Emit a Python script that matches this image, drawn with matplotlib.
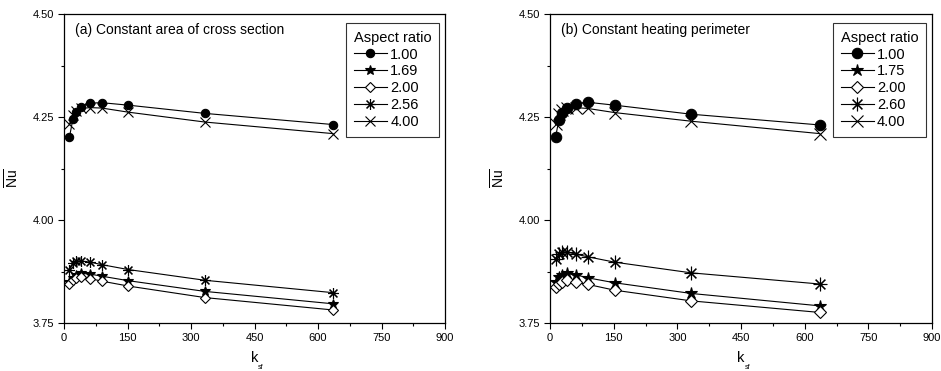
import matplotlib
matplotlib.use("Agg")
import matplotlib.pyplot as plt

plt.rcParams['font.family'] = ['Liberation Sans', 'DejaVu Sans']
plt.rcParams['mathtext.fontset'] = 'custom'
plt.rcParams['mathtext.rm'] = 'Liberation Sans'
plt.rcParams['mathtext.it'] = 'Liberation Sans'

# k_sf values (same for every series)
ksf = [13, 21, 28, 39, 62, 89, 152, 333, 635]

# (a) constant area of cross section
labels_a = ["1.00", "1.69", "2.00", "2.56", "4.00"]
nu_a_100 = [4.202, 4.245, 4.262, 4.275, 4.284, 4.285, 4.279, 4.259, 4.232]
nu_a_169 = [3.850, 3.860, 3.867, 3.871, 3.869, 3.864, 3.853, 3.827, 3.797]
nu_a_200 = [3.844, 3.854, 3.859, 3.862, 3.858, 3.852, 3.840, 3.812, 3.782]
nu_a_256 = [3.880, 3.895, 3.900, 3.901, 3.898, 3.892, 3.880, 3.854, 3.824]
nu_a_400 = [4.233, 4.256, 4.266, 4.271, 4.273, 4.272, 4.262, 4.238, 4.210]

# (b) constant heating perimeter
labels_b = ["1.00", "1.75", "2.00", "2.60", "4.00"]
nu_b_100 = [4.201, 4.244, 4.261, 4.273, 4.282, 4.286, 4.279, 4.257, 4.231]
nu_b_175 = [3.850, 3.862, 3.867, 3.871, 3.867, 3.860, 3.848, 3.822, 3.792]
nu_b_200 = [3.838, 3.846, 3.850, 3.854, 3.849, 3.844, 3.830, 3.804, 3.776]
nu_b_260 = [3.905, 3.917, 3.922, 3.923, 3.917, 3.911, 3.898, 3.872, 3.845]
nu_b_400 = [4.233, 4.258, 4.267, 4.272, 4.273, 4.271, 4.261, 4.240, 4.210]

markers = ["o", "*", "D", (8, 2, 0), "x"]
fills = ["black", "black", "white", "black", "black"]


def panel(ax, series, labels, title, msize):
    for y, lab, m, fc in zip(series, labels, markers, fills):
        ms = msize
        if m == "D":
            ms = msize * 0.8
        elif m == "*":
            ms = msize * 1.2
        elif m == "x":
            ms = msize * 1.1
        else:
            ms = msize * 1.3 if isinstance(m, tuple) else msize
        ax.plot(ksf, y, color="black", lw=0.8, marker=m, markersize=ms,
                markerfacecolor=fc, markeredgecolor="black", markeredgewidth=0.8,
                label=lab)
    ax.set_xlim(0, 900)
    ax.set_ylim(3.75, 4.50)
    ax.set_xticks(range(0, 901, 150))
    ax.set_xticks(range(75, 900, 150), minor=True)
    ax.set_yticks([3.75, 4.00, 4.25, 4.50])
    ax.set_yticks([3.875, 4.125, 4.375], minor=True)
    ax.set_yticklabels(["3.75", "4.00", "4.25", "4.50"])
    ax.tick_params(which="both", direction="out", labelsize=8, width=0.8, pad=3)
    ax.tick_params(which="major", length=4)
    ax.tick_params(which="minor", length=2.5)
    for s in ax.spines.values():
        s.set_linewidth(0.9)
    # x label: k with a tiny "sf" subscript
    ax.text(0.5, -0.125, "k", transform=ax.transAxes, fontsize=10.5,
            ha="center", va="baseline")
    ax.text(0.509, -0.147, "sf", transform=ax.transAxes, fontsize=5,
            ha="left", va="baseline")
    ax.set_ylabel(r"$\overline{\mathrm{Nu}}$", fontsize=10)
    ax.yaxis.set_label_coords(-0.112, 0.47)
    ax.text(0.03, 0.97, title, transform=ax.transAxes, fontsize=10, va="top", ha="left")
    leg = ax.legend(title="Aspect ratio", loc="upper right", bbox_to_anchor=(0.983, 0.97),
                    fontsize=10.5, title_fontsize=10.5, frameon=True, fancybox=False,
                    edgecolor="black", handlelength=2.3, handletextpad=0.2,
                    labelspacing=0.2, borderpad=0.5, borderaxespad=0)
    leg.get_frame().set_linewidth(0.8)
    leg._legend_box.align = "left"


fig = plt.figure(figsize=(9.41, 3.71), dpi=100)
ax1 = fig.add_axes([0.068, 0.129, 0.405, 0.833])
ax2 = fig.add_axes([0.5845, 0.129, 0.406, 0.833])

panel(ax1, [nu_a_100, nu_a_169, nu_a_200, nu_a_256, nu_a_400], labels_a,
      "(a) Constant area of cross section", 6)
panel(ax2, [nu_b_100, nu_b_175, nu_b_200, nu_b_260, nu_b_400], labels_b,
      "(b) Constant heating perimeter", 7.5)

fig.savefig("out.png", dpi=100)
